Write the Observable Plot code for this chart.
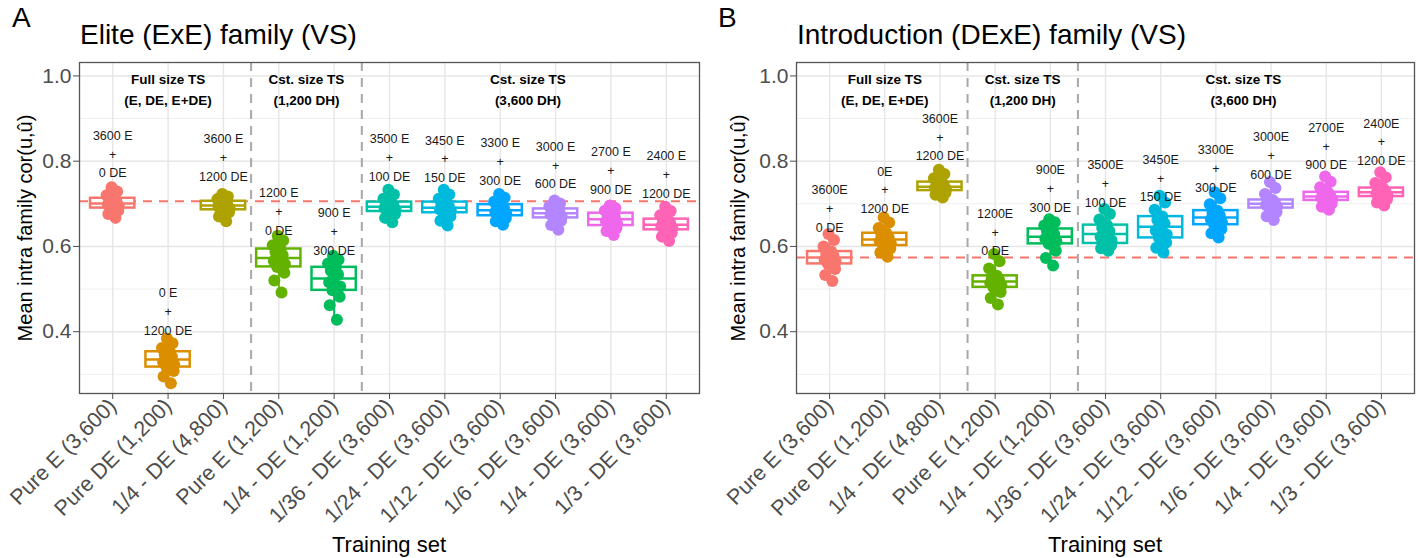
<!DOCTYPE html>
<html><head><meta charset="utf-8">
<script src="https://cdn.jsdelivr.net/npm/d3@7"></script>
<script src="https://cdn.jsdelivr.net/npm/@observablehq/plot@0.6"></script>
<style>
body{margin:0;width:1418px;height:558px;background:#fff;font-family:"Liberation Sans",Arial,sans-serif;position:relative;overflow:hidden}
.panel{position:absolute;top:0;width:709px;height:558px}
.letter{position:absolute;top:2px;font-size:28px;color:#000}
.title{position:absolute;top:19px;font-size:28px;color:#000;white-space:nowrap}
.chart{position:absolute;top:50px;left:0}
.ylab{position:absolute;font-size:20px;color:#000;white-space:nowrap;transform:translate(-50%,-50%) rotate(-90deg)}
.xlab{position:absolute;font-size:22px;color:#000;white-space:nowrap;transform:translate(-50%,-50%)}
</style></head>
<body>
<div class="panel" id="pA" style="left:0">
  <div class="letter" style="left:12px">A</div>
  <div class="title" style="left:80px">Elite (ExE) family (VS)</div>
  <div class="chart" id="cA"></div>
  <div class="ylab" style="left:25px;top:228px">Mean intra family cor(u,û)</div>
  <div class="xlab" style="left:389px;top:545px">Training set</div>
</div>
<div class="panel" id="pB" style="left:709px">
  <div class="letter" style="left:9px">B</div>
  <div class="title" style="left:88px">Introduction (DExE) family (VS)</div>
  <div class="chart" id="cB"></div>
  <div class="ylab" style="left:29px;top:228px">Mean intra family cor(u,û)</div>
  <div class="xlab" style="left:396px;top:545px">Training set</div>
</div>
<script>
const categories = ["Pure E (3,600)","Pure DE (1,200)","1/4 - DE (4,800)","Pure E (1,200)","1/4 - DE (1,200)","1/36 - DE (3,600)","1/24 - DE (3,600)","1/12 - DE (3,600)","1/6 - DE (3,600)","1/4 - DE (3,600)","1/3 - DE (3,600)"];
const colors = ["#F8766D","#DB8E00","#AEA200","#64B200","#00BD5C","#00C1A7","#00BADE","#00A6FF","#B385FF","#EF67EB","#FF63B6"];
const yTicks = [0.4,0.6,0.8,1.0];
const yMinorTicks = [0.3,0.5,0.7,0.9];
const headerText = ["Full size TS\n(E, DE, E+DE)","Cst. size TS\n(1,200 DH)","Cst. size TS\n(3,600 DH)"];
const headerPos = [2,4.5,8.5];
const separators = [3.5,5.5];

// Panel A: Elite (ExE)
const eliteMin = [0.667,0.279,0.659,0.492,0.428,0.657,0.649,0.651,0.639,0.627,0.613];
const eliteQ1  = [0.690,0.317,0.686,0.552,0.497,0.682,0.679,0.672,0.667,0.649,0.639];
const eliteMed = [0.701,0.335,0.696,0.573,0.525,0.693,0.691,0.685,0.678,0.664,0.651];
const eliteQ3  = [0.713,0.353,0.706,0.594,0.551,0.704,0.704,0.698,0.688,0.678,0.664];
const eliteMax = [0.739,0.384,0.723,0.625,0.578,0.733,0.733,0.723,0.708,0.696,0.693];
const elitePoints = [
 [0.667,0.676,0.684,0.690,0.694,0.698,0.701,0.705,0.709,0.713,0.720,0.729,0.739],
 [0.279,0.295,0.308,0.317,0.323,0.329,0.335,0.341,0.347,0.353,0.362,0.373,0.384],
 [0.659,0.670,0.680,0.686,0.689,0.693,0.696,0.699,0.703,0.706,0.711,0.717,0.723],
 [0.492,0.520,0.538,0.552,0.559,0.566,0.573,0.580,0.587,0.594,0.603,0.614,0.625],
 [0.428,0.462,0.482,0.497,0.506,0.516,0.525,0.534,0.543,0.551,0.560,0.569,0.578],
 [0.657,0.667,0.676,0.682,0.686,0.690,0.693,0.697,0.701,0.704,0.712,0.722,0.733],
 [0.649,0.660,0.671,0.679,0.683,0.687,0.691,0.695,0.700,0.704,0.712,0.722,0.733],
 [0.651,0.659,0.666,0.672,0.676,0.681,0.685,0.689,0.694,0.698,0.705,0.714,0.723],
 [0.639,0.650,0.660,0.667,0.671,0.675,0.678,0.681,0.685,0.688,0.694,0.701,0.708],
 [0.627,0.636,0.643,0.649,0.654,0.659,0.664,0.669,0.674,0.678,0.684,0.690,0.696],
 [0.613,0.623,0.632,0.639,0.643,0.647,0.651,0.655,0.660,0.664,0.673,0.683,0.693]
];
const eliteLabelY = [0.820,0.451,0.812,0.686,0.639,0.812,0.809,0.803,0.794,0.782,0.772];
const eliteTopLabels = ["3600 E","0 E","3600 E","1200 E","900 E","3500 E","3450 E","3300 E","3000 E","2700 E","2400 E"];
const eliteBottomLabels = ["0 DE","1200 DE","1200 DE","0 DE","300 DE","100 DE","150 DE","300 DE","600 DE","900 DE","1200 DE"];
const eliteRef = 0.706;

// Panel B: Introduction (DExE)
const introMin = [0.519,0.576,0.715,0.464,0.555,0.590,0.586,0.621,0.662,0.686,0.696];
const introQ1  = [0.559,0.602,0.731,0.504,0.606,0.607,0.620,0.651,0.690,0.708,0.717];
const introMed = [0.574,0.616,0.740,0.518,0.623,0.629,0.646,0.668,0.700,0.717,0.727];
const introQ3  = [0.588,0.631,0.751,0.531,0.641,0.650,0.670,0.684,0.709,0.727,0.737];
const introMax = [0.629,0.668,0.780,0.582,0.664,0.688,0.719,0.727,0.751,0.764,0.774];
const introPoints = [
 [0.519,0.533,0.547,0.559,0.564,0.569,0.574,0.579,0.584,0.588,0.600,0.615,0.629],
 [0.576,0.586,0.595,0.602,0.607,0.612,0.616,0.621,0.626,0.631,0.643,0.656,0.668],
 [0.715,0.721,0.726,0.731,0.734,0.737,0.740,0.744,0.748,0.751,0.760,0.770,0.780],
 [0.464,0.479,0.493,0.504,0.509,0.514,0.518,0.522,0.527,0.531,0.548,0.565,0.582],
 [0.555,0.573,0.590,0.606,0.612,0.618,0.623,0.629,0.635,0.641,0.649,0.657,0.664],
 [0.590,0.596,0.602,0.607,0.614,0.622,0.629,0.636,0.643,0.650,0.663,0.676,0.688],
 [0.586,0.597,0.609,0.620,0.628,0.637,0.646,0.654,0.662,0.670,0.686,0.703,0.719],
 [0.621,0.631,0.641,0.651,0.657,0.663,0.668,0.673,0.679,0.684,0.699,0.713,0.727],
 [0.662,0.671,0.681,0.690,0.693,0.697,0.700,0.703,0.706,0.709,0.723,0.737,0.751],
 [0.686,0.693,0.701,0.708,0.711,0.714,0.717,0.720,0.724,0.727,0.739,0.752,0.764],
 [0.696,0.703,0.710,0.717,0.720,0.724,0.727,0.730,0.734,0.737,0.749,0.762,0.774]
];
const introLabelY = [0.692,0.736,0.860,0.637,0.739,0.751,0.764,0.786,0.817,0.839,0.849];
const introTopLabels = ["3600E","0E","3600E","1200E","900E","3500E","3450E","3300E","3000E","2700E","2400E"];
const introBottomLabels = ["0 DE","1200 DE","1200 DE","0 DE","300 DE","100 DE","150 DE","300 DE","600 DE","900 DE","1200 DE"];
const introRef = 0.574;

// horizontal spread of the dots within a box (style only)
const jitter = [0.05,-0.08,0.10,-0.03,0.11,-0.09,0.0,0.07,-0.06,0.03,-0.11,0.08,-0.02];

function panel(p) {
  const idx = categories.map((c, i) => i + 1);
  const stats = idx.map((x, i) => ({x, c: colors[i], lo: p.min[i], q1: p.q1[i], med: p.med[i], q3: p.q3[i], hi: p.max[i]}));
  const pts = p.points.flatMap((vals, i) => vals.map((v, j) => ({x: i + 1 + jitter[j % jitter.length], y: v, c: colors[i]})));
  const labs = idx.map((x, i) => ({x, y: p.labelY[i], t: p.top[i] + "\n+\n" + p.bottom[i]}));
  const heads = headerPos.map((x, i) => ({x, t: headerText[i]}));
  return Plot.plot({
    width: 709, height: 508,
    marginLeft: p.ml, marginRight: p.mr, marginTop: 12, marginBottom: 165,
    style: {fontFamily: "Liberation Sans, Arial, sans-serif", background: "white"},
    x: {type: "linear", domain: [0.4, 11.6]},
    y: {domain: [0.255, 1.0315]},
    color: {type: "identity"},
    marks: [
      Plot.gridY(yMinorTicks, {stroke: "#EFEFEF", strokeOpacity: 1, strokeWidth: 1}),
      Plot.gridY(yTicks, {stroke: "#E6E6E6", strokeOpacity: 1, strokeWidth: 1.4}),
      Plot.gridX(idx, {stroke: "#E6E6E6", strokeOpacity: 1, strokeWidth: 1.4}),
      Plot.ruleX(separators, {stroke: "#A8A8A8", strokeWidth: 2, strokeDasharray: "9,7"}),
      Plot.ruleY([p.ref], {stroke: "#F8766D", strokeWidth: 2.2, strokeDasharray: "9,7"}),
      Plot.ruleX(stats, {x: "x", y1: "lo", y2: "hi", stroke: "c", strokeWidth: 2}),
      Plot.rect(stats, {x1: d => d.x - 0.4, x2: d => d.x + 0.4, y1: "q1", y2: "q3", fill: "white", stroke: "c", strokeWidth: 2.5}),
      Plot.ruleY(stats, {y: "med", x1: d => d.x - 0.4, x2: d => d.x + 0.4, stroke: "c", strokeWidth: 2.5}),
      Plot.dot(pts, {x: "x", y: "y", r: 6, fill: "c", stroke: null}),
      Plot.text(labs, {x: "x", y: "y", text: "t", fontSize: 12.5, lineHeight: 1.5, fill: "#1a1a1a"}),
      Plot.text(heads, {x: "x", y: 0.972, text: "t", fontSize: 13.5, fontWeight: "bold", lineHeight: 1.55, fill: "#000"}),
      Plot.frame({stroke: "#555", strokeWidth: 1.3}),
      Plot.axisY(yTicks, {tickFormat: d3.format(".1f"), fontSize: 21, color: "#4D4D4D", tickSize: 6, tickPadding: 2, label: null}),
      Plot.axisX(idx, {tickFormat: d => categories[d - 1], tickRotate: -45, fontSize: 21.5, color: "#4D4D4D", tickSize: 6, tickPadding: 3, label: null})
    ]
  });
}

document.getElementById("cA").append(panel({
  ml: 79, mr: 10, min: eliteMin, q1: eliteQ1, med: eliteMed, q3: eliteQ3, max: eliteMax,
  points: elitePoints, labelY: eliteLabelY, top: eliteTopLabels, bottom: eliteBottomLabels, ref: eliteRef
}));
document.getElementById("cB").append(panel({
  ml: 87, mr: 4, min: introMin, q1: introQ1, med: introMed, q3: introQ3, max: introMax,
  points: introPoints, labelY: introLabelY, top: introTopLabels, bottom: introBottomLabels, ref: introRef
}));
</script>
</body></html>
